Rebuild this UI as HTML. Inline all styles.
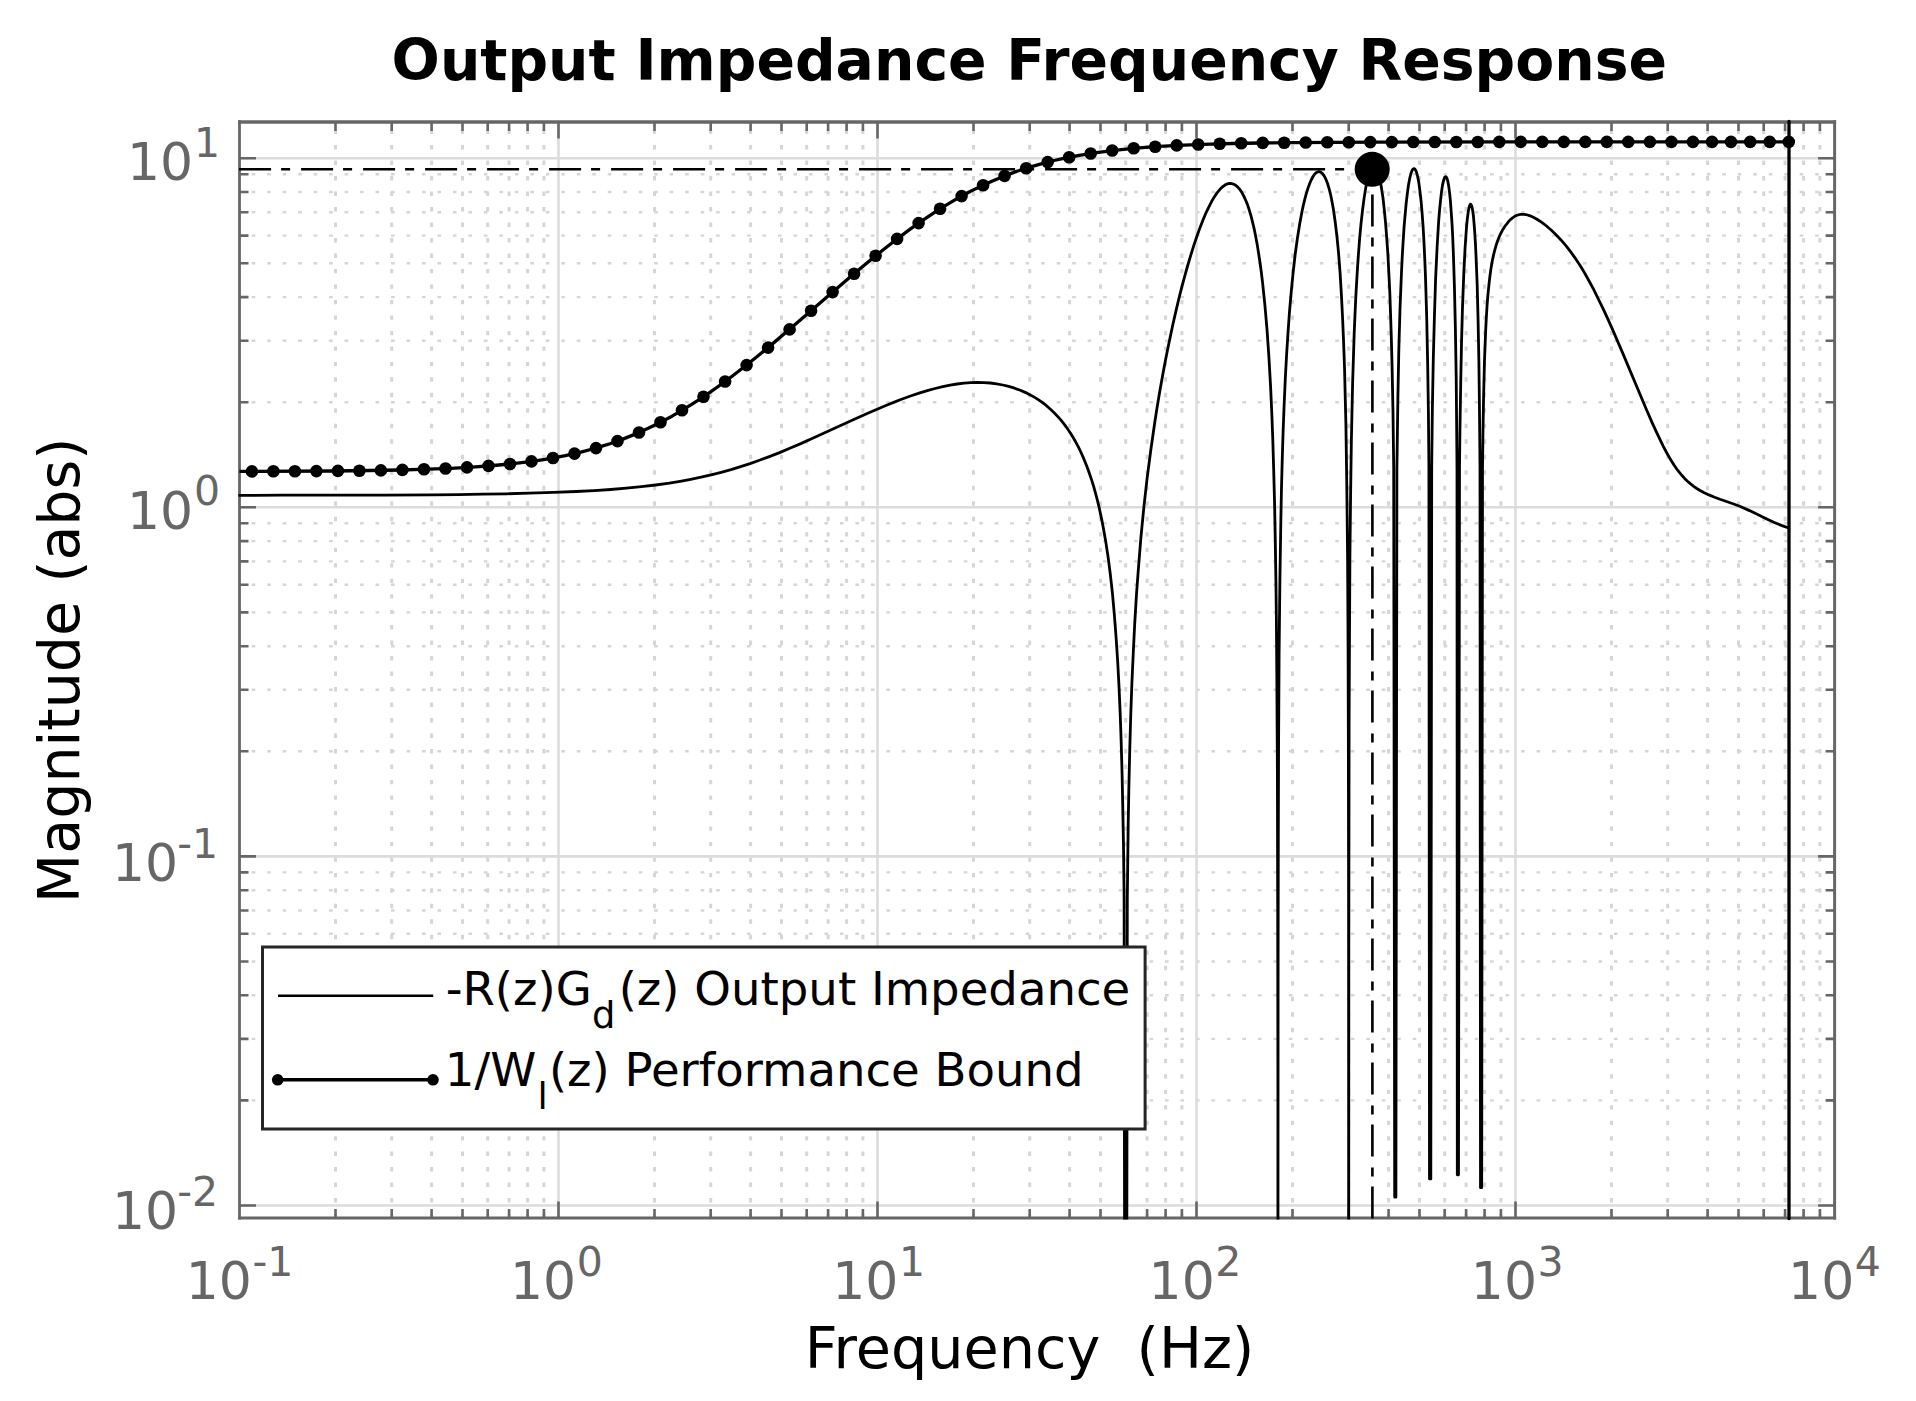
<!DOCTYPE html><html><head><meta charset="utf-8"><title>Output Impedance Frequency Response</title>
<style>html,body{margin:0;padding:0;background:#fff;}svg{display:block;}text{font-family:"DejaVu Sans","Liberation Sans",sans-serif;white-space:pre;}</style></head><body>
<svg width="1916" height="1401" viewBox="0 0 1916 1401">
<rect x="0" y="0" width="1916" height="1401" fill="#fff"/>
<defs><clipPath id="ax"><rect x="238.0" y="120.5" width="1598.1" height="1099.0"/></clipPath></defs>
<path d="M335.5 122V1218M391.7 122V1218M431.6 122V1218M462.5 122V1218M487.7 122V1218M509.1 122V1218M527.6 122V1218M543.9 122V1218M654.5 122V1218M710.7 122V1218M750.6 122V1218M781.5 122V1218M806.7 122V1218M828.1 122V1218M846.6 122V1218M862.9 122V1218M973.5 122V1218M1029.7 122V1218M1069.6 122V1218M1100.5 122V1218M1125.7 122V1218M1147.1 122V1218M1165.6 122V1218M1181.9 122V1218M1292.5 122V1218M1348.7 122V1218M1388.6 122V1218M1419.5 122V1218M1444.7 122V1218M1466.1 122V1218M1484.6 122V1218M1500.9 122V1218M1611.5 122V1218M1667.7 122V1218M1707.6 122V1218M1738.5 122V1218M1763.7 122V1218M1785.1 122V1218M1803.6 122V1218M1819.9 122V1218" stroke="#d6d6d6" stroke-width="3.0" stroke-dasharray="4.4 11.085" stroke-dashoffset="-7.6" fill="none"/>
<path d="M239.5 1100.4H1834.6M239.5 1038.9H1834.6M239.5 995.3H1834.6M239.5 961.5H1834.6M239.5 933.8H1834.6M239.5 910.5H1834.6M239.5 890.2H1834.6M239.5 872.4H1834.6M239.5 751.3H1834.6M239.5 689.8H1834.6M239.5 646.2H1834.6M239.5 612.4H1834.6M239.5 584.7H1834.6M239.5 561.4H1834.6M239.5 541.1H1834.6M239.5 523.3H1834.6M239.5 402.2H1834.6M239.5 340.7H1834.6M239.5 297.1H1834.6M239.5 263.3H1834.6M239.5 235.6H1834.6M239.5 212.3H1834.6M239.5 192H1834.6M239.5 174.2H1834.6" stroke="#d6d6d6" stroke-width="2.4" stroke-dasharray="3.6 11.88" stroke-dashoffset="-12.2" fill="none"/>
<path d="M558.5 1218V122M877.5 1218V122M1196.5 1218V122M1515.5 1218V122M239.5 158.2H1834.6M239.5 507.3H1834.6M239.5 856.4H1834.6M239.5 1205.5H1834.6" stroke="#dcdcdc" stroke-width="2.6" fill="none"/>
<path d="M558.5 1218v-16.5M558.5 122v16.5M877.5 1218v-16.5M877.5 122v16.5M1196.5 1218v-16.5M1196.5 122v16.5M1515.5 1218v-16.5M1515.5 122v16.5M335.5 1218v-9M335.5 122v9M391.7 1218v-9M391.7 122v9M431.6 1218v-9M431.6 122v9M462.5 1218v-9M462.5 122v9M487.7 1218v-9M487.7 122v9M509.1 1218v-9M509.1 122v9M527.6 1218v-9M527.6 122v9M543.9 1218v-9M543.9 122v9M654.5 1218v-9M654.5 122v9M710.7 1218v-9M710.7 122v9M750.6 1218v-9M750.6 122v9M781.5 1218v-9M781.5 122v9M806.7 1218v-9M806.7 122v9M828.1 1218v-9M828.1 122v9M846.6 1218v-9M846.6 122v9M862.9 1218v-9M862.9 122v9M973.5 1218v-9M973.5 122v9M1029.7 1218v-9M1029.7 122v9M1069.6 1218v-9M1069.6 122v9M1100.5 1218v-9M1100.5 122v9M1125.7 1218v-9M1125.7 122v9M1147.1 1218v-9M1147.1 122v9M1165.6 1218v-9M1165.6 122v9M1181.9 1218v-9M1181.9 122v9M1292.5 1218v-9M1292.5 122v9M1348.7 1218v-9M1348.7 122v9M1388.6 1218v-9M1388.6 122v9M1419.5 1218v-9M1419.5 122v9M1444.7 1218v-9M1444.7 122v9M1466.1 1218v-9M1466.1 122v9M1484.6 1218v-9M1484.6 122v9M1500.9 1218v-9M1500.9 122v9M1611.5 1218v-9M1611.5 122v9M1667.7 1218v-9M1667.7 122v9M1707.6 1218v-9M1707.6 122v9M1738.5 1218v-9M1738.5 122v9M1763.7 1218v-9M1763.7 122v9M1785.1 1218v-9M1785.1 122v9M1803.6 1218v-9M1803.6 122v9M1819.9 1218v-9M1819.9 122v9M239.5 158.2h16.5M1834.6 158.2h-16.5M239.5 507.3h16.5M1834.6 507.3h-16.5M239.5 856.4h16.5M1834.6 856.4h-16.5M239.5 1205.5h16.5M1834.6 1205.5h-16.5M239.5 1100.4h9M1834.6 1100.4h-9M239.5 1038.9h9M1834.6 1038.9h-9M239.5 995.3h9M1834.6 995.3h-9M239.5 961.5h9M1834.6 961.5h-9M239.5 933.8h9M1834.6 933.8h-9M239.5 910.5h9M1834.6 910.5h-9M239.5 890.2h9M1834.6 890.2h-9M239.5 872.4h9M1834.6 872.4h-9M239.5 751.3h9M1834.6 751.3h-9M239.5 689.8h9M1834.6 689.8h-9M239.5 646.2h9M1834.6 646.2h-9M239.5 612.4h9M1834.6 612.4h-9M239.5 584.7h9M1834.6 584.7h-9M239.5 561.4h9M1834.6 561.4h-9M239.5 541.1h9M1834.6 541.1h-9M239.5 523.3h9M1834.6 523.3h-9M239.5 402.2h9M1834.6 402.2h-9M239.5 340.7h9M1834.6 340.7h-9M239.5 297.1h9M1834.6 297.1h-9M239.5 263.3h9M1834.6 263.3h-9M239.5 235.6h9M1834.6 235.6h-9M239.5 212.3h9M1834.6 212.3h-9M239.5 192h9M1834.6 192h-9M239.5 174.2h9M1834.6 174.2h-9" stroke="#666666" stroke-width="2.6" fill="none"/>
<path d="M238.1 122.0H1836.1" stroke="#666666" stroke-width="3.4" fill="none"/>
<path d="M238.1 1218.0H1836.1" stroke="#666666" stroke-width="3.2" fill="none"/>
<path d="M239.5 120.3V1219.6" stroke="#666666" stroke-width="2.8" fill="none"/>
<path d="M1834.6 120.3V1219.6" stroke="#666666" stroke-width="3.0" fill="none"/>
<g clip-path="url(#ax)">
<path d="M239.5 495.4 L281.9 495.2 L384.9 495.1 L432.4 494.8 L458.5 494.6 L483.1 494.2 L506.6 493.8 L529 493.2 L553.6 492.4 L576.1 491.5 L594.1 490.6 L610.7 489.5 L626.4 488.2 L641.4 486.7 L655.6 485 L669.3 483.1 L680.1 481.3 L690.7 479.3 L701.1 477.2 L711.1 474.9 L721.2 472.3 L731 469.6 L740.6 466.7 L750.1 463.6 L759.4 460.3 L769.3 456.6 L779.6 452.6 L790.4 448 L800.8 443.6 L812.1 438.5 L853.2 419.8 L869.5 412.5 L886.5 405.2 L894.3 402.1 L901.5 399.3 L910.5 396 L919.1 393.2 L927.3 390.6 L935.1 388.5 L942.8 386.6 L950.1 385.1 L957 384 L964 383.1 L970.7 382.6 L977.4 382.4 L983.9 382.6 L990.4 383 L996.6 383.8 L1002.8 385 L1008.7 386.4 L1014.6 388.2 L1020.3 390.2 L1025.7 392.6 L1031.2 395.4 L1036.3 398.4 L1041.2 401.7 L1045.9 405.2 L1050.5 409.2 L1054.9 413.5 L1058.3 417.1 L1061.4 420.7 L1064.5 424.6 L1067.3 428.5 L1070.2 432.7 L1073 437.3 L1075.6 441.8 L1078.2 446.7 L1080.8 452 L1083.1 457.1 L1085.4 462.7 L1087.5 468 L1089.5 473.7 L1091.6 479.9 L1093.7 486.7 L1095.5 493.1 L1097.3 499.9 L1099 506.8 L1100.6 514.4 L1102.2 521.9 L1103.7 530 L1105.3 538.9 L1107.9 555.6 L1110.2 573.4 L1112.4 592.9 L1114.3 614.1 L1116.1 637.5 L1117.7 661.8 L1119 686.4 L1120.2 713.5 L1121.2 742.6 L1122.1 774.7 L1122.8 808.8 L1123.5 845.8 L1124 886.8 L1124.1 898 L1124.8 1400 L1126.6 1400 L1127.3 899.6 L1128.2 823.9 L1128.9 785.9 L1129.8 747.9 L1130.8 713.6 L1131.9 683 L1133.3 652.2 L1134.7 623.7 L1136.5 594.1 L1138.4 568.7 L1140.9 537.6 L1143.9 506.8 L1147.1 478.3 L1150.9 449.2 L1154.9 421.5 L1157.2 406.8 L1159.5 392.9 L1161.9 379.6 L1164.4 365.7 L1167 352.4 L1169.9 338.5 L1172.7 325.3 L1175.8 311.6 L1178.6 299.7 L1181.7 287.4 L1184.6 276.6 L1187.7 265.5 L1190.8 255.1 L1193.9 245.2 L1197 236 L1200.1 227.4 L1203.2 219.5 L1206 212.8 L1208.9 206.8 L1211.7 201.3 L1214.5 196.6 L1217.4 192.4 L1220 189.3 L1222.3 187 L1224.6 185.3 L1225.9 184.6 L1226.9 184.1 L1228.2 183.7 L1229.3 183.5 L1230.3 183.5 L1231.3 183.5 L1232.6 183.8 L1233.7 184.2 L1234.7 184.7 L1235.7 185.3 L1237.8 187.1 L1239.9 189.5 L1241.9 192.6 L1243.7 195.9 L1245.5 199.8 L1247.4 204.4 L1249.2 209.8 L1251 215.9 L1252.5 221.9 L1254.1 228.6 L1255.6 236.1 L1257.2 244.4 L1258.6 253.4 L1260 262.5 L1261.3 272.1 L1262.6 282.8 L1264.9 305.1 L1267 329.3 L1268.9 356.9 L1270.6 386.9 L1271.8 413.3 L1272.8 439.7 L1273.7 470.1 L1274.6 504.2 L1275.3 542.1 L1275.9 580.1 L1276.4 621.8 L1276.8 671 L1277.4 773.2 L1277.7 909.2 L1277.9 1086.7 L1277.9 1400 L1278.1 962 L1278.3 837.5 L1278.6 739.4 L1279.1 652.8 L1279.9 580 L1280.9 517.4 L1281.5 487.5 L1282.2 461.3 L1283.1 431.6 L1284.1 405.7 L1285.3 378.8 L1286.6 354.6 L1288 332.9 L1289.5 311.6 L1291.3 291.1 L1293.1 272.9 L1295.1 255 L1297.4 238.2 L1299.8 223.3 L1302.1 211 L1303.4 205 L1304.7 199.6 L1306 194.7 L1307.3 190.3 L1308.6 186.4 L1309.9 183 L1311.2 180 L1312.7 177 L1314.2 174.7 L1315.5 173.3 L1316.3 172.6 L1317.1 172.2 L1318.4 171.7 L1319.2 171.7 L1319.9 171.8 L1321.2 172.5 L1322.5 173.6 L1323.8 175.3 L1325.1 177.6 L1326.4 180.5 L1327.7 184 L1329 188.3 L1330.3 193.3 L1331.3 198 L1332.3 203.3 L1333.4 209.3 L1335.2 222 L1337 237 L1338.6 253.6 L1340.1 273.2 L1341.4 294.9 L1342.6 318.2 L1343.6 342.2 L1344.6 370.1 L1345.2 395.8 L1345.9 423.6 L1346.8 485.5 L1347.6 559.3 L1348.1 652.5 L1348.4 757.6 L1348.6 893.1 L1348.7 1400 L1348.8 946.1 L1349.1 719.9 L1349.5 633.3 L1349.9 558.2 L1350.6 494.7 L1351.4 438.9 L1352.6 383.8 L1353.4 358.4 L1354.2 333.3 L1355.1 312.2 L1356.1 291.4 L1357.3 271.1 L1358.4 254.7 L1359.6 238.9 L1361 223.8 L1362.6 209.7 L1364.1 198.1 L1365.6 188.6 L1366.4 184.5 L1367.5 179.8 L1369 174.2 L1369.8 172 L1370.8 169.7 L1371.6 168.4 L1372.6 167.3 L1373.1 167 L1373.7 166.8 L1374.4 167 L1374.9 167.3 L1375.5 167.7 L1376.2 168.8 L1377.3 170.9 L1378 173 L1379.1 176.4 L1379.9 179.6 L1381.4 187.6 L1383 198 L1384.2 208.9 L1385.5 222.2 L1386.7 237.3 L1387.9 254.3 L1388.8 272.2 L1389.8 292.2 L1390.5 312.7 L1391.3 337.1 L1392 363 L1393 412.4 L1393.7 467.3 L1394.7 1197.2 L1395.9 1197.2 L1396.9 467.7 L1397.9 397.2 L1398.8 350.6 L1400 308.8 L1401.5 272 L1402.3 255.4 L1403.2 240.5 L1404.1 226.7 L1405.2 213.9 L1406.2 203.1 L1407.5 192.1 L1408.5 185 L1409.8 178 L1411.1 173 L1411.6 171.6 L1412.4 169.9 L1413.2 168.9 L1413.7 168.6 L1414.2 168.6 L1414.5 168.8 L1415 169.2 L1415.8 170.5 L1416.3 171.7 L1417 174.2 L1417.6 176.2 L1418.9 183.1 L1420.1 192.5 L1421.2 202.3 L1422.2 214.4 L1423.2 228.2 L1424 242.8 L1424.8 259.6 L1425.5 277.1 L1426.7 317 L1427.7 365.6 L1428.4 412.1 L1428.9 466.6 L1429.5 1178.9 L1430.8 1178.9 L1431.7 466.5 L1432.4 406.8 L1433.3 358.8 L1434.4 317.2 L1435.6 279 L1437.1 247.2 L1438 232.1 L1438.7 220.6 L1439.5 210.8 L1440.6 199.8 L1441.6 191.2 L1442.6 184.6 L1443.7 180.1 L1444.2 178.5 L1444.7 177.4 L1445.2 176.8 L1445.7 176.7 L1446.2 177.1 L1446.8 177.9 L1447.3 179.4 L1447.8 181.3 L1448.6 185.4 L1449.6 193.1 L1450.4 200.8 L1451.1 210.5 L1452 223.3 L1452.7 237 L1453.3 251.5 L1454.4 285.8 L1455.4 329.1 L1456.2 377.8 L1456.6 420.6 L1457 467.8 L1457.3 1174.8 L1458.5 1174.8 L1459.5 467.2 L1459.9 432.9 L1460.7 384.2 L1461.5 343.4 L1462.5 307.4 L1463.8 273.3 L1465.1 247.7 L1465.9 235.8 L1466.6 226 L1467.4 218.2 L1468.2 212.1 L1469 207.8 L1469.5 205.9 L1470 204.7 L1470.3 204.3 L1470.5 204.2 L1470.8 204.3 L1471 204.5 L1471.5 205.6 L1471.8 206.4 L1472.6 210.1 L1473.4 215.8 L1474.1 223.8 L1474.6 230.5 L1475.4 242.9 L1476 255.3 L1477.2 285.2 L1478.1 321 L1478.9 362.3 L1479.5 412.1 L1480 466.7 L1480.5 1187.7 L1481.7 1187.7 L1482.5 468.6 L1483 430.2 L1483.6 396.9 L1484.5 360.3 L1485.7 329.9 L1486.3 318.3 L1487 306.5 L1487.8 296.2 L1488.9 285.2 L1489.9 276.2 L1490.9 268.9 L1492.2 261.3 L1493.5 255.1 L1495.1 248.9 L1496.6 243.7 L1498.4 238.7 L1500.2 234.5 L1502.5 230.1 L1505.1 226 L1508 222.3 L1509.5 220.6 L1511.1 219.1 L1512.6 217.8 L1513.9 216.9 L1515.2 216.1 L1516.5 215.5 L1517.8 215 L1519.3 214.6 L1520.9 214.4 L1522.4 214.3 L1524 214.4 L1525.8 214.6 L1527.6 215 L1529.4 215.6 L1531.2 216.3 L1533.3 217.2 L1537.4 219.5 L1541.8 222.4 L1546.5 226 L1551.4 230.2 L1556.3 235 L1561.2 240.2 L1566.1 245.9 L1570.7 251.9 L1575.4 258.4 L1579.8 265.1 L1584.2 272.3 L1588.8 280.5 L1593.5 289.2 L1598.1 298.5 L1602.8 308.1 L1607.7 318.7 L1612.6 329.6 L1622.4 352.4 L1646.2 409 L1652.1 422.6 L1657.3 433.9 L1663.2 446.1 L1666 451.5 L1668.9 456.6 L1671.5 461 L1674 465 L1676.6 468.8 L1679.2 472.2 L1681.8 475.3 L1684.6 478.4 L1687.5 481.2 L1690.6 483.9 L1693.7 486.3 L1696.8 488.5 L1700.1 490.5 L1703.8 492.5 L1708.9 494.9 L1714.6 497.3 L1720 499.3 L1733.7 504 L1740.9 506.8 L1749.5 510.6 L1766.8 519 L1774.3 522.5 L1782 525.6 L1788.7 528" stroke="#000" stroke-width="2.8" fill="none" stroke-linejoin="round" stroke-linecap="round"/>
</g>
<path d="M239.5 471.4 L334.5 471 L369.4 470.5 L400.5 470 L427.6 469.2 L450.9 468.3 L472.2 467.1 L493.5 465.5 L512.9 463.7 L532.3 461.3 L549.8 458.6 L565.3 455.6 L580.8 452.1 L594.4 448.5 L602.1 446.2 L609.9 443.7 L623.5 438.9 L637.1 433.4 L648.7 428.1 L660.3 422.4 L672 416.2 L683.6 409.4 L697.2 400.9 L708.8 393.1 L722.4 383.5 L732.1 376.3 L743.7 367.3 L755.3 358 L768.9 346.9 L792.2 327.1 L848.4 278.5 L863.9 265.4 L879.5 252.7 L895 240.5 L910.5 228.9 L924.1 219.4 L937.6 210.4 L945.4 205.6 L953.2 200.9 L960.9 196.5 L968.7 192.3 L976.4 188.4 L984.2 184.7 L991.9 181.2 L999.7 177.9 L1007.5 174.8 L1015.2 171.9 L1023 169.3 L1030.7 166.8 L1038.5 164.6 L1046.2 162.5 L1054 160.5 L1063.7 158.4 L1079.2 155.3 L1096.7 152.6 L1114.1 150.3 L1133.5 148.4 L1154.8 146.7 L1178.1 145.4 L1203.3 144.3 L1232.4 143.5 L1259.6 143 L1292.5 142.6 L1377.9 142.1 L1502 141.9 L1789 141.9" stroke="#000" stroke-width="3.3" fill="none" stroke-linejoin="round"/>
<g fill="#000"><circle cx="251.9" cy="471.4" r="6.3"/><circle cx="273.4" cy="471.3" r="6.3"/><circle cx="294.9" cy="471.2" r="6.3"/><circle cx="316.4" cy="471.1" r="6.3"/><circle cx="337.9" cy="470.9" r="6.3"/><circle cx="359.4" cy="470.7" r="6.3"/><circle cx="380.9" cy="470.4" r="6.3"/><circle cx="402.4" cy="469.9" r="6.3"/><circle cx="424" cy="469.3" r="6.3"/><circle cx="445.5" cy="468.5" r="6.3"/><circle cx="467" cy="467.4" r="6.3"/><circle cx="488.5" cy="465.9" r="6.3"/><circle cx="510" cy="464" r="6.3"/><circle cx="531.5" cy="461.4" r="6.3"/><circle cx="553" cy="458" r="6.3"/><circle cx="574.5" cy="453.6" r="6.3"/><circle cx="596" cy="448.1" r="6.3"/><circle cx="617.5" cy="441.1" r="6.3"/><circle cx="639" cy="432.5" r="6.3"/><circle cx="660.5" cy="422.3" r="6.3"/><circle cx="682" cy="410.3" r="6.3"/><circle cx="703.5" cy="396.7" r="6.3"/><circle cx="725.1" cy="381.5" r="6.3"/><circle cx="746.6" cy="365.1" r="6.3"/><circle cx="768.1" cy="347.6" r="6.3"/><circle cx="789.6" cy="329.4" r="6.3"/><circle cx="811.1" cy="310.8" r="6.3"/><circle cx="832.6" cy="292.1" r="6.3"/><circle cx="854.1" cy="273.7" r="6.3"/><circle cx="875.6" cy="255.8" r="6.3"/><circle cx="897.1" cy="238.9" r="6.3"/><circle cx="918.6" cy="223.1" r="6.3"/><circle cx="940.1" cy="208.8" r="6.3"/><circle cx="961.6" cy="196.1" r="6.3"/><circle cx="983.1" cy="185.2" r="6.3"/><circle cx="1004.6" cy="175.9" r="6.3"/><circle cx="1026.2" cy="168.3" r="6.3"/><circle cx="1047.7" cy="162.1" r="6.3"/><circle cx="1069.2" cy="157.2" r="6.3"/><circle cx="1090.7" cy="153.5" r="6.3"/><circle cx="1112.2" cy="150.5" r="6.3"/><circle cx="1133.7" cy="148.3" r="6.3"/><circle cx="1155.2" cy="146.7" r="6.3"/><circle cx="1176.7" cy="145.4" r="6.3"/><circle cx="1198.2" cy="144.5" r="6.3"/><circle cx="1219.7" cy="143.8" r="6.3"/><circle cx="1241.2" cy="143.3" r="6.3"/><circle cx="1262.7" cy="142.9" r="6.3"/><circle cx="1284.2" cy="142.7" r="6.3"/><circle cx="1305.7" cy="142.5" r="6.3"/><circle cx="1327.3" cy="142.3" r="6.3"/><circle cx="1348.8" cy="142.2" r="6.3"/><circle cx="1370.3" cy="142.1" r="6.3"/><circle cx="1391.8" cy="142.1" r="6.3"/><circle cx="1413.3" cy="142" r="6.3"/><circle cx="1434.8" cy="142" r="6.3"/><circle cx="1456.3" cy="142" r="6.3"/><circle cx="1477.8" cy="142" r="6.3"/><circle cx="1499.3" cy="141.9" r="6.3"/><circle cx="1520.8" cy="141.9" r="6.3"/><circle cx="1542.3" cy="141.9" r="6.3"/><circle cx="1563.8" cy="141.9" r="6.3"/><circle cx="1585.3" cy="141.9" r="6.3"/><circle cx="1606.8" cy="141.9" r="6.3"/><circle cx="1628.3" cy="141.9" r="6.3"/><circle cx="1649.9" cy="141.9" r="6.3"/><circle cx="1671.4" cy="141.9" r="6.3"/><circle cx="1692.9" cy="141.9" r="6.3"/><circle cx="1712" cy="141.9" r="6.3"/><circle cx="1731" cy="141.9" r="6.3"/><circle cx="1750.2" cy="141.9" r="6.3"/><circle cx="1769.7" cy="141.9" r="6.3"/><circle cx="1788.8" cy="141.9" r="6.3"/></g>
<path d="M239.1 169.3H1372.2" stroke="#000" stroke-width="2.6" stroke-dasharray="32 10 9 11" fill="none"/>
<path d="M1372.4 1218.4V169.3" stroke="#000" stroke-width="2.6" stroke-dasharray="32 10 9 11" fill="none"/>
<circle cx="1372.2" cy="169.3" r="17.5" fill="#000"/>
<path d="M1789 121.5V1218.5" stroke="#000" stroke-width="3.3" stroke-linecap="round" fill="none"/>
<g fill="#666666"><text x="126.9" y="179.8" font-size="52">10</text><text x="193.9" y="157.2" font-size="41">1</text><text x="126.9" y="529" font-size="52">10</text><text x="193.9" y="504.9" font-size="41">0</text><text x="111.9" y="880.9" font-size="52">10</text><text x="177.2" y="858.3" font-size="41">-1</text><text x="111.9" y="1229" font-size="52">10</text><text x="177.2" y="1206.4" font-size="41">-2</text><text x="185.7" y="1299" font-size="52">10</text><text x="252.4" y="1276.3" font-size="41">-1</text><text x="510" y="1299" font-size="52">10</text><text x="576.7" y="1276.3" font-size="41">0</text><text x="832.2" y="1299" font-size="52">10</text><text x="898.9" y="1276.3" font-size="41">1</text><text x="1148.6" y="1299" font-size="52">10</text><text x="1215.3" y="1276.3" font-size="41">2</text><text x="1470.8" y="1299" font-size="52">10</text><text x="1537.5" y="1276.3" font-size="41">3</text><text x="1788.1" y="1299" font-size="52">10</text><text x="1854.8" y="1276.3" font-size="41">4</text></g>
<text x="391.6" y="80" font-size="56.8" font-weight="bold" fill="#000">Output Impedance Frequency Response</text>
<text x="804.8" y="1368.4" font-size="57.2" fill="#000">Frequency  (Hz)</text>
<text transform="translate(79.1 902.9) rotate(-90)" x="0" y="0" font-size="57" fill="#000">Magnitude (abs)</text>
<rect x="262.5" y="947" width="882.6" height="182" fill="#fff" stroke="#262626" stroke-width="3"/>
<path d="M278 995.8H433.2" stroke="#000" stroke-width="2.6" fill="none"/>
<path d="M277.7 1079.8H433" stroke="#000" stroke-width="3.6" fill="none"/>
<circle cx="277.7" cy="1079.8" r="5.8" fill="#000"/><circle cx="433" cy="1079.8" r="5.8" fill="#000"/>
<g fill="#000">
<text x="445.7" y="1004.5" font-size="46.6">-R(z)G</text><text x="591.9" y="1027.5" font-size="36.8">d</text><text x="618.7" y="1004.5" font-size="46.6">(z) Output Impedance</text>
<text x="444.8" y="1085.9" font-size="46.6">1/W</text><text x="537.6" y="1108.8" font-size="36.8">l</text><text x="548.9" y="1085.9" font-size="46.6">(z) Performance Bound</text>
</g>
</svg></body></html>
